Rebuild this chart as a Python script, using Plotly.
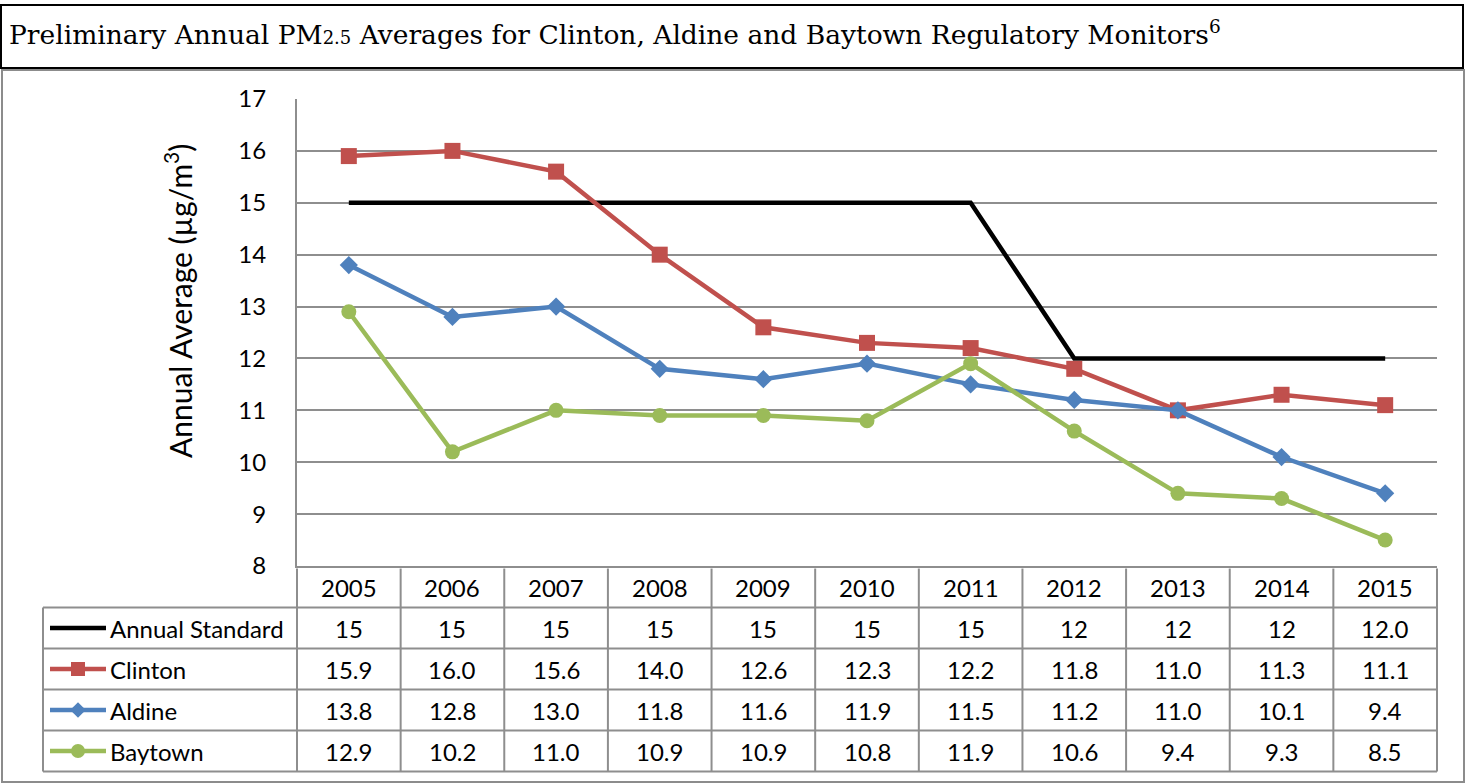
import plotly.graph_objects as go

# ---------------- data ----------------
years = ["2005", "2006", "2007", "2008", "2009", "2010", "2011", "2012", "2013", "2014", "2015"]
annual_standard = [15, 15, 15, 15, 15, 15, 15, 12, 12, 12, 12.0]
annual_standard_labels = ["15", "15", "15", "15", "15", "15", "15", "12", "12", "12", "12.0"]
clinton = [15.9, 16.0, 15.6, 14.0, 12.6, 12.3, 12.2, 11.8, 11.0, 11.3, 11.1]
aldine = [13.8, 12.8, 13.0, 11.8, 11.6, 11.9, 11.5, 11.2, 11.0, 10.1, 9.4]
baytown = [12.9, 10.2, 11.0, 10.9, 10.9, 10.8, 11.9, 10.6, 9.4, 9.3, 8.5]
series_names = ["Annual Standard", "Clinton", "Aldine", "Baytown"]
y_ticks = [8, 9, 10, 11, 12, 13, 14, 15, 16, 17]

# ---------------- style / layout ----------------
W, H = 1466, 783
colors = ["#000000", "#C0504D", "#4F81BD", "#9BBB59"]
symbols = [None, "square", "diamond", "circle"]
msizes = [0, 16, 14, 15]
key_msizes = [0, 14, 12, 14]
lwidths = [4.5, 4.5, 4.5, 4.5]
grid_c = "#8E8E8E"
FONT = "Lato"
FS = 24

plot_l, plot_r = 297, 1437
plot_t, plot_b = 99, 566
col_w = (plot_r - plot_l) / len(years)
row_h = 41
row0_c = 587  # center of header row in px

def px_x(px):
    return px / W

def px_y(py):
    return 1 - py / H

# table axis units
x2_lo = -0.5 - plot_l / col_w
x2_hi = len(years) - 0.5 + (W - plot_r) / col_w
y2_top = (0 - row0_c) / row_h
y2_bot = (H - row0_c) / row_h

def tx(px):
    return (px - plot_l) / col_w - 0.5

fig = go.Figure()

all_vals = [annual_standard, clinton, aldine, baytown]
for i, (name, vals) in enumerate(zip(series_names, all_vals)):
    fig.add_trace(go.Scatter(
        x=years, y=vals, name=name,
        mode="lines" if symbols[i] is None else "lines+markers",
        line=dict(color=colors[i], width=lwidths[i]),
        marker=dict(symbol=symbols[i] or "circle", size=msizes[i], color=colors[i]),
        xaxis="x", yaxis="y", showlegend=False, hoverinfo="skip", cliponaxis=False))

# ---------- table: legend keys ----------
key_x0, key_x1, key_mid = tx(50), tx(106), tx(78)
for i, name in enumerate(series_names):
    r = i + 1
    fig.add_trace(go.Scatter(
        x=[key_x0, key_mid, key_x1], y=[r, r, r], mode="lines",
        line=dict(color=colors[i], width=lwidths[i]),
        xaxis="x2", yaxis="y2", showlegend=False, hoverinfo="skip"))
    if symbols[i] is not None:
        fig.add_trace(go.Scatter(
            x=[key_mid], y=[r], mode="markers",
            marker=dict(symbol=symbols[i], size=key_msizes[i], color=colors[i]),
            xaxis="x2", yaxis="y2", showlegend=False, hoverinfo="skip"))
    fig.add_annotation(x=tx(108), y=r, xref="x2", yref="y2", text=name,
                       showarrow=False, xanchor="left", yanchor="middle",
                       font=dict(family=FONT, size=FS, color="black"))

# ---------- table: header and values ----------
for j, yr in enumerate(years):
    fig.add_annotation(x=j, y=0, xref="x2", yref="y2", text=yr, showarrow=False,
                       font=dict(family=FONT, size=FS, color="black"))

row_texts = [annual_standard_labels,
             [f"{v:.1f}" for v in clinton],
             [f"{v:.1f}" for v in aldine],
             [f"{v:.1f}" for v in baytown]]
for r, texts in enumerate(row_texts, start=1):
    for j, t in enumerate(texts):
        fig.add_annotation(x=j, y=r, xref="x2", yref="y2", text=t, showarrow=False,
                           font=dict(family=FONT, size=FS, color="black"))

# ---------- table: grid lines ----------
shapes = []
tl = dict(color=grid_c, width=2)
left_key = tx(43)
for k in range(1, 6):
    yb = k - 0.5
    shapes.append(dict(type="line", xref="x2", yref="y2", x0=left_key, x1=len(years) - 0.5,
                       y0=yb, y1=yb, line=tl))
for k in range(len(years) + 1):
    xb = k - 0.5
    shapes.append(dict(type="line", xref="x2", yref="y2", x0=xb, x1=xb,
                       y0=-0.45, y1=4.5, line=tl))
shapes.append(dict(type="line", xref="x2", yref="y2", x0=left_key, x1=left_key,
                   y0=0.5, y1=4.5, line=tl))

# title box and chart frame
shapes.append(dict(type="rect", xref="paper", yref="paper",
                   x0=px_x(1), x1=px_x(1463), y0=px_y(68), y1=px_y(5),
                   line=dict(color="black", width=2), layer="above"))
shapes.append(dict(type="rect", xref="paper", yref="paper",
                   x0=px_x(2), x1=px_x(1464), y0=px_y(782), y1=px_y(70),
                   line=dict(color="#8C8C8C", width=2), layer="below"))

fig.add_annotation(xref="paper", yref="paper", x=px_x(7), y=px_y(33),
                   xanchor="left", yanchor="middle", showarrow=False,
                   text="Preliminary Annual PM<span style='font-size:18px'>2.5</span> Averages for Clinton, Aldine and Baytown Regulatory Monitors<sup>6</sup>",
                   font=dict(family="DejaVu Serif", size=26.5, color="black"))

fig.add_annotation(xref="paper", yref="paper", x=px_x(178), y=px_y(301),
                   textangle=-90, showarrow=False, xanchor="center", yanchor="middle",
                   text="Annual Average (µg/m<sup>3</sup>)",
                   font=dict(family=FONT, size=30, color="black"))

fig.update_layout(
    template="none",
    width=W, height=H, autosize=False,
    margin=dict(l=0, r=0, t=0, b=0, pad=0, autoexpand=False),
    paper_bgcolor="white", plot_bgcolor="rgba(0,0,0,0)",
    shapes=shapes,
    xaxis=dict(domain=[px_x(plot_l), px_x(plot_r)], type="category",
               range=[-0.5, len(years) - 0.5], showticklabels=False, showgrid=False,
               showline=True, linecolor=grid_c, linewidth=2, ticks="", zeroline=False,
               anchor="y", automargin=False),
    yaxis=dict(domain=[px_y(plot_b), px_y(plot_t)], range=[8, 17], tickvals=y_ticks,
               showgrid=True, gridcolor=grid_c, gridwidth=1.5,
               showline=True, linecolor=grid_c, linewidth=2, ticks="",
               ticklabelstandoff=24, zeroline=False, automargin=False,
               tickfont=dict(family=FONT, size=FS, color="black"), anchor="x"),
    xaxis2=dict(domain=[0, 1], range=[x2_lo, x2_hi], visible=False, anchor="y2",
                automargin=False),
    yaxis2=dict(domain=[0, 1], range=[y2_bot, y2_top], visible=False, anchor="x2",
                automargin=False),
)

fig.write_html("out.html", config={"displayModeBar": False},
               post_script="document.body.style.margin='0';document.body.style.overflow='hidden';")
